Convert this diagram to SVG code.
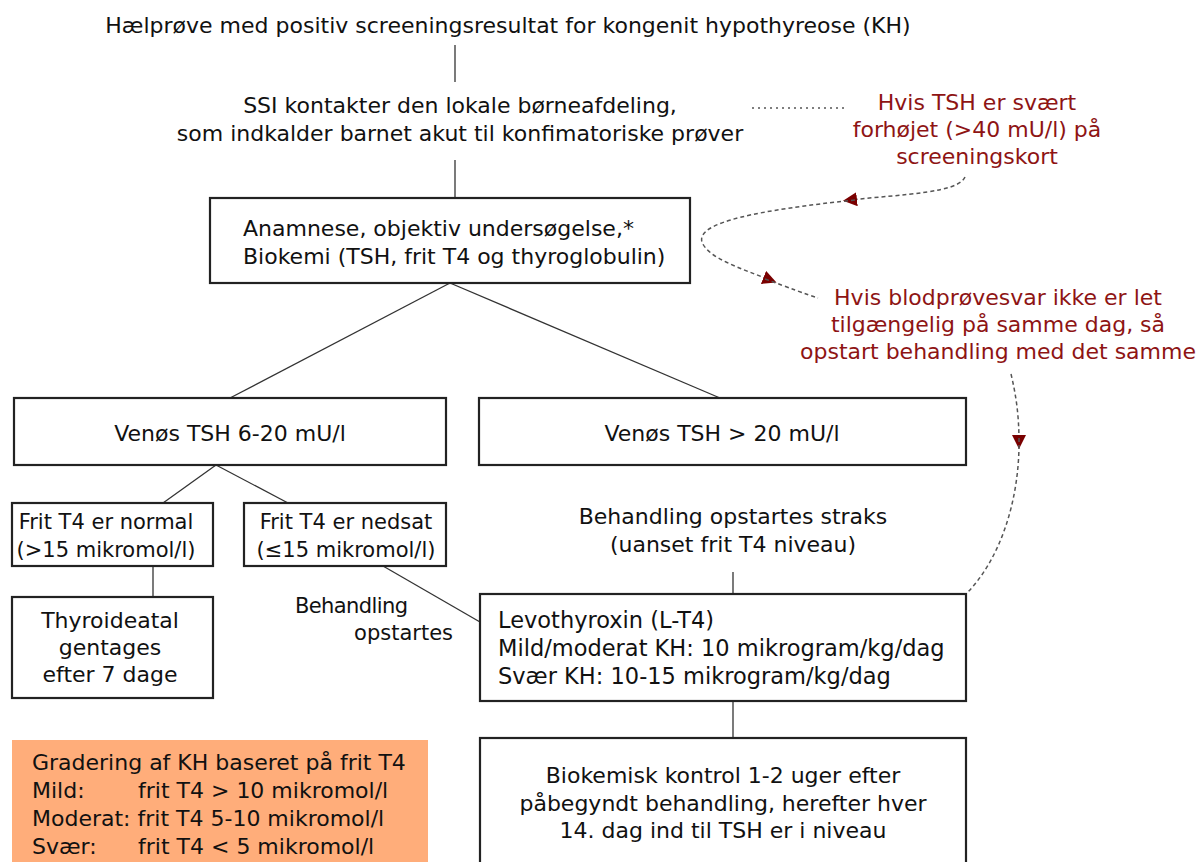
<svg xmlns="http://www.w3.org/2000/svg" width="1200" height="862" viewBox="0 0 1200 862">
<defs>
<style>
text{font-family:"DejaVu Sans","Verdana",sans-serif;font-size:22px;fill:#111}
.c{text-anchor:middle}
.s{font-size:21px}
.r{fill:#8e1414}
.box{fill:#fff;stroke:#222;stroke-width:2.2}
.ln{stroke:#333;stroke-width:1.3;fill:none}
.dash{stroke:#555;stroke-width:1.5;fill:none;stroke-dasharray:4 3}
.dot{stroke:#555;stroke-width:1.5;fill:none;stroke-dasharray:2 4}
</style>
<marker id="ah" viewBox="0 0 10 10" refX="5" refY="5" markerWidth="14" markerHeight="14" markerUnits="userSpaceOnUse" orient="auto">
<path d="M0,0 L10,5 L0,10 z" fill="#7a0000"/>
</marker>
</defs>
<rect width="1200" height="862" fill="#fff"/>
<g id="connectors">
<line class="ln" x1="455" y1="45" x2="455" y2="82"/>
<line class="ln" x1="455" y1="160" x2="455" y2="198"/>
<line class="ln" x1="450" y1="283" x2="230" y2="398"/>
<line class="ln" x1="450" y1="283" x2="720" y2="398"/>
<line class="ln" x1="216" y1="465" x2="163" y2="503"/>
<line class="ln" x1="216" y1="465" x2="288" y2="503"/>
<line class="ln" x1="153" y1="566" x2="153" y2="597"/>
<line class="ln" x1="383" y1="566" x2="480" y2="622"/>
<line class="ln" x1="733" y1="572" x2="733" y2="594"/>
<line class="ln" x1="733" y1="701" x2="733" y2="738"/>
<line class="dot" x1="752" y1="108" x2="848" y2="108"/>
<path class="dash" d="M965,177 C958,193 905,194 850,200" marker-end="url(#ah)"/>
<path class="dash" d="M855,200 C760,210 696,222 702,242 C708,258 740,268 770,280" marker-end="url(#ah)"/>
<path class="dash" d="M765,279 C790,288 805,294 818,298"/>
<path class="dash" d="M1011,374 C1016,395 1019,415 1019,442" marker-end="url(#ah)"/>
<path class="dash" d="M1019,438 C1020,500 1000,560 966,594"/>
</g>
<g id="n_top"><text class="c" x="508" y="33">Hælprøve med positiv screeningsresultat for kongenit hypothyreose (KH)</text></g>
<g id="n_ssi"><text class="c" x="460" y="113">SSI kontakter den lokale børneafdeling,</text><text class="c" x="460" y="141">som indkalder barnet akut til konfimatoriske prøver</text></g>
<g id="n_anam"><rect class="box" x="210" y="198" width="480" height="85"/><text x="243" y="236">Anamnese, objektiv undersøgelse,*</text><text x="243" y="264">Biokemi (TSH, frit T4 og thyroglobulin)</text></g>
<g id="n_tsh1"><rect class="box" x="14" y="398" width="432" height="67"/><text class="c" x="230" y="441">Venøs TSH 6-20 mU/l</text></g>
<g id="n_tsh2"><rect class="box" x="479" y="398" width="487" height="67"/><text class="c" x="722" y="441">Venøs TSH &gt; 20 mU/l</text></g>
<g id="n_norm"><rect class="box" x="12" y="503" width="201" height="63"/><text class="c s" x="106" y="529">Frit T4 er normal</text><text class="c s" x="106" y="557">(&gt;15 mikromol/l)</text></g>
<g id="n_ned"><rect class="box" x="244" y="503" width="202" height="63"/><text class="c s" x="346" y="529">Frit T4 er nedsat</text><text class="c s" x="346" y="557">(≤15 mikromol/l)</text></g>
<g id="n_thy"><rect class="box" x="12" y="597" width="201" height="101"/><text class="c" x="110" y="628">Thyroideatal</text><text class="c" x="110" y="655">gentages</text><text class="c" x="110" y="682">efter 7 dage</text></g>
<g id="l_beh"><text class="s" x="295" y="613" textLength="113">Behandling</text><text class="s" x="453" y="640" text-anchor="end">opstartes</text></g>
<g id="l_straks"><text class="c" x="733" y="524">Behandling opstartes straks</text><text class="c" x="733" y="552">(uanset frit T4 niveau)</text></g>
<g id="n_levo"><rect class="box" x="480" y="594" width="486" height="107"/><text x="498" y="628" style="font-size:22.5px">Levothyroxin (L-T4)</text><text x="498" y="656" style="font-size:22.5px">Mild/moderat KH: 10 mikrogram/kg/dag</text><text x="498" y="684" style="font-size:22.5px">Svær KH: 10-15 mikrogram/kg/dag</text></g>
<g id="n_bio"><rect class="box" x="480" y="738" width="486" height="140"/><text class="c" x="723" y="783">Biokemisk kontrol 1-2 uger efter</text><text class="c" x="723" y="811">påbegyndt behandling, herefter hver</text><text class="c" x="723" y="838">14. dag ind til TSH er i niveau</text></g>
<g id="n_grad"><rect x="12" y="740" width="416" height="125" fill="#ffad7a"/><text x="32" y="770">Gradering af KH baseret på frit T4</text><text x="32" y="798">Mild:</text><text x="138" y="798">frit T4 &gt; 10 mikromol/l</text><text x="32" y="826">Moderat: frit T4 5-10 mikromol/l</text><text x="32" y="854">Svær:</text><text x="138" y="854">frit T4 &lt; 5 mikromol/l</text></g>
<g id="n_red1"><text class="c r" x="977" y="110">Hvis TSH er svært</text><text class="c r" x="977" y="137">forhøjet (&gt;40 mU/l) på</text><text class="c r" x="977" y="164">screeningskort</text></g>
<g id="n_red2"><text class="c r" x="998" y="305">Hvis blodprøvesvar ikke er let</text><text class="c r" x="998" y="332">tilgængelig på samme dag, så</text><text class="c r" x="998" y="359">opstart behandling med det samme</text></g>
</svg>
